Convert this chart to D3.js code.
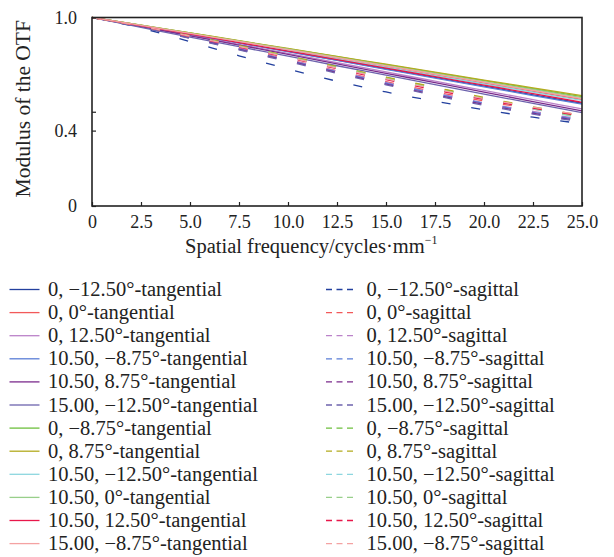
<!DOCTYPE html>
<html>
<head>
<meta charset="utf-8">
<script src="https://cdn.jsdelivr.net/npm/d3@7"></script>
<style>
	body { margin: 0; background: #fff; }
	text { font-family: "Liberation Serif", "Times New Roman", serif; fill: #222; }
</style>
</head>
<body>
<svg id="chart" width="614" height="557"></svg>
<script>
// spatial frequency (cycles/mm)
const freqs = [0, 2.5, 5, 7.5, 10, 12.5, 15, 17.5, 20, 22.5, 25]
const xTicks = [0, 2.5, 5, 7.5, 10, 12.5, 15, 17.5, 20, 22.5, 25]
const yTicks = [0, 0.4, 0.5, 1.0]
const yTickLabels = ['0', '0.4', '', '1.0']

const fieldNames = [
	'0, \u221212.50\u00b0', '0, 0\u00b0', '0, 12.50\u00b0', '10.50, \u22128.75\u00b0',
	'10.50, 8.75\u00b0', '15.00, \u221212.50\u00b0', '0, \u22128.75\u00b0', '0, 8.75\u00b0',
	'10.50, \u221212.50\u00b0', '10.50, 0\u00b0', '10.50, 12.50\u00b0', '15.00, \u22128.75\u00b0'
]
const fieldColors = [
	'#23409e', '#f2595a', '#bb82c9', '#5a7ed6', '#7b2b8c', '#6d63ad',
	'#6dbf3d', '#b3ab1e', '#8dd6df', '#98cf8a', '#e8174a', '#f4a2a2'
]

// modulus of the OTF, tangential (solid)
const tangential = [
	[1.0, 0.956, 0.911, 0.866, 0.820, 0.774, 0.728, 0.682, 0.636, 0.590, 0.545],
	[1.0, 0.958, 0.915, 0.872, 0.828, 0.784, 0.740, 0.696, 0.652, 0.608, 0.565],
	[1.0, 0.954, 0.906, 0.858, 0.810, 0.761, 0.712, 0.662, 0.613, 0.564, 0.515],
	[1.0, 0.956, 0.911, 0.865, 0.819, 0.772, 0.725, 0.678, 0.632, 0.586, 0.540],
	[1.0, 0.952, 0.903, 0.854, 0.804, 0.754, 0.704, 0.654, 0.604, 0.554, 0.505],
	[1.0, 0.948, 0.896, 0.845, 0.795, 0.744, 0.694, 0.644, 0.594, 0.544, 0.495],
	[1.0, 0.959, 0.918, 0.876, 0.834, 0.792, 0.750, 0.707, 0.665, 0.622, 0.580],
	[1.0, 0.960, 0.919, 0.877, 0.836, 0.794, 0.752, 0.710, 0.668, 0.627, 0.586],
	[1.0, 0.957, 0.914, 0.870, 0.826, 0.781, 0.737, 0.692, 0.648, 0.604, 0.560],
	[1.0, 0.958, 0.916, 0.874, 0.832, 0.789, 0.746, 0.703, 0.660, 0.618, 0.575],
	[1.0, 0.956, 0.912, 0.867, 0.822, 0.777, 0.731, 0.686, 0.641, 0.596, 0.550],
	[1.0, 0.958, 0.916, 0.873, 0.830, 0.787, 0.743, 0.700, 0.657, 0.613, 0.570]
]

// modulus of the OTF, sagittal (dashed)
const sagittal = [
	[1.0, 0.944, 0.872, 0.797, 0.727, 0.662, 0.605, 0.556, 0.511, 0.471, 0.437],
	[1.0, 0.950, 0.894, 0.836, 0.777, 0.718, 0.660, 0.606, 0.557, 0.514, 0.476],
	[1.0, 0.950, 0.894, 0.836, 0.776, 0.716, 0.656, 0.600, 0.548, 0.502, 0.460],
	[1.0, 0.950, 0.893, 0.834, 0.773, 0.712, 0.652, 0.596, 0.545, 0.497, 0.455],
	[1.0, 0.949, 0.891, 0.831, 0.770, 0.708, 0.647, 0.590, 0.539, 0.492, 0.449],
	[1.0, 0.948, 0.889, 0.828, 0.766, 0.704, 0.643, 0.586, 0.534, 0.487, 0.445],
	[1.0, 0.955, 0.903, 0.850, 0.794, 0.738, 0.682, 0.628, 0.572, 0.520, 0.470],
	[1.0, 0.955, 0.904, 0.851, 0.796, 0.740, 0.684, 0.630, 0.576, 0.526, 0.480],
	[1.0, 0.953, 0.900, 0.845, 0.788, 0.731, 0.674, 0.619, 0.566, 0.515, 0.466],
	[1.0, 0.954, 0.902, 0.848, 0.792, 0.735, 0.678, 0.623, 0.569, 0.518, 0.470],
	[1.0, 0.953, 0.899, 0.843, 0.786, 0.728, 0.670, 0.616, 0.565, 0.519, 0.478],
	[1.0, 0.954, 0.901, 0.846, 0.789, 0.732, 0.675, 0.621, 0.570, 0.524, 0.482]
]

const svg = d3.select('#chart')
const plotLeft = 92, plotRight = 582, plotTop = 17.5, plotBottom = 206

let xScale = d3.scaleLinear().domain([0, 25]).range([plotLeft, plotRight])
let yScale = d3.scaleLinear().domain([0, 1]).range([plotBottom, plotTop])

// series, drawn in legend order
let series = []
fieldNames.forEach((name, i) => {
	series.push({ label: name + '-tangential', color: fieldColors[i], values: tangential[i], dashed: false })
	series.push({ label: name + '-sagittal', color: fieldColors[i], values: sagittal[i], dashed: true })
})

let line = d3.line()
	.x((d, i) => xScale(freqs[i]))
	.y(d => yScale(d))
	.curve(d3.curveMonotoneX)

svg.append('defs').append('clipPath').attr('id', 'clip')
	.append('rect')
	.attr('x', plotLeft).attr('y', plotTop - 2)
	.attr('width', plotRight - plotLeft).attr('height', plotBottom - plotTop + 2)

svg.append('g')
	.attr('clip-path', 'url(#clip)')
	.selectAll('path')
	.data(series)
	.enter()
	.append('path')
	.attr('d', d => line(d.values))
	.attr('fill', 'none')
	.attr('stroke', d => d.color)
	.attr('stroke-width', 1.3)
	.attr('stroke-dasharray', d => d.dashed ? '9,21' : null)

// axes, ticks pointing inward
let bottomAxisG = svg.append('g').attr('transform', `translate(0, ${plotBottom})`)
bottomAxisG.call(d3.axisBottom(xScale)
	.tickValues(xTicks)
	.tickSizeInner(-4)
	.tickSizeOuter(0)
	.tickPadding(9)
	.tickFormat(d => d === 0 ? '0' : d3.format('.1f')(d)))

let leftAxisG = svg.append('g').attr('transform', `translate(${plotLeft}, 0)`)
leftAxisG.call(d3.axisLeft(yScale)
	.tickValues(yTicks)
	.tickSizeInner(-4)
	.tickSizeOuter(0)
	.tickPadding(15)
	.tickFormat((d, i) => yTickLabels[i]))

svg.selectAll('.domain').remove()
svg.selectAll('.tick line').attr('stroke', '#222').attr('stroke-width', 1.2)
svg.selectAll('.tick text')
	.attr('font-family', '"Liberation Serif", serif')
	.attr('font-size', 18)
	.attr('fill', '#222')

svg.append('rect')
	.attr('x', plotLeft).attr('y', plotTop)
	.attr('width', plotRight - plotLeft).attr('height', plotBottom - plotTop)
	.attr('fill', 'none')
	.attr('stroke', '#222')
	.attr('stroke-width', 1.6)

// axis titles
let xTitle = svg.append('text')
	.attr('x', 185)
	.attr('y', 253)
	.attr('font-size', 20.5)
xTitle.append('tspan').text('Spatial frequency/cycles\u00b7mm')
xTitle.append('tspan').text('\u22121').attr('font-size', 12).attr('dy', -9)

svg.append('text')
	.attr('transform', `translate(30, ${(plotTop + 200) / 2}) rotate(-90)`)
	.attr('text-anchor', 'middle')
	.attr('font-size', 21.5)
	.text('Modulus of the OTF')

// legend: tangential left, sagittal right
const rowStep = 23.1
let legend = svg.append('g')
series.forEach((s, k) => {
	let row = Math.floor(k / 2)
	let y = 289.5 + row * rowStep
	let x0 = s.dashed ? 326 : 9.5
	let len = s.dashed ? 27 : 30
	legend.append('line')
		.attr('x1', x0).attr('x2', x0 + len)
		.attr('y1', y).attr('y2', y)
		.attr('stroke', s.color)
		.attr('stroke-width', 1.3)
		.attr('stroke-dasharray', s.dashed ? '6,4.5' : null)
	legend.append('text')
		.attr('x', s.dashed ? 366.5 : 48)
		.attr('y', y + 6.5)
		.attr('font-size', 20.5)
		.text(s.label)
})
</script>
</body>
</html>
